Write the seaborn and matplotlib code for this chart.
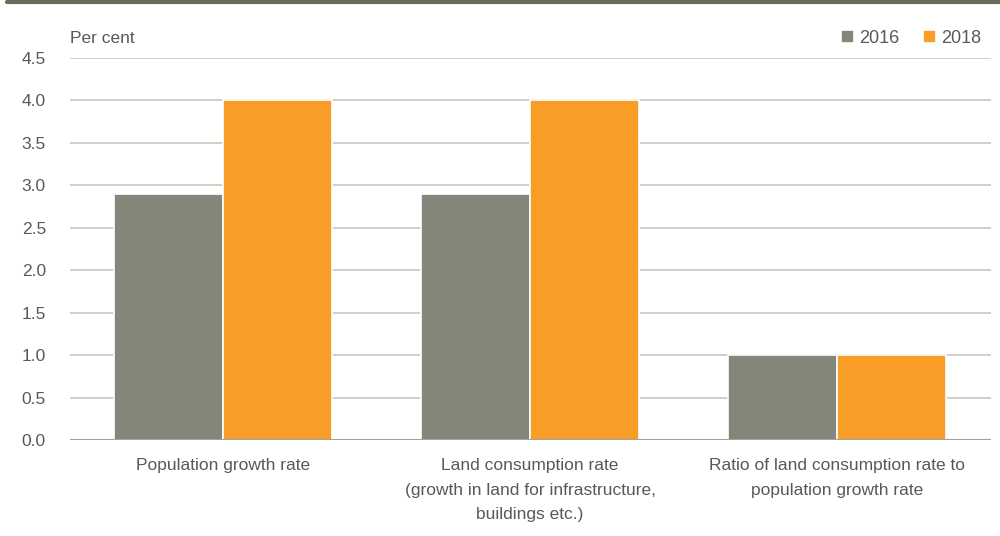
import pandas as pd
import numpy as np
import matplotlib.pyplot as plt
from matplotlib.lines import Line2D
import seaborn as sns

sns.set_theme(style="white")
plt.rcParams['font.family'] = ['Liberation Sans', 'DejaVu Sans']

# ── DATA ────────────────────────────────────────────
categories = [
    'Population growth rate',
    'Land consumption rate\n(growth in land for infrastructure,\nbuildings etc.)',
    'Ratio of land consumption rate to\npopulation growth rate',
]
values_2016 = [2.9, 2.9, 1.0]
values_2018 = [4.0, 4.0, 1.0]
years = ['2016', '2018']
y_ticks = [0.0, 0.5, 1.0, 1.5, 2.0, 2.5, 3.0, 3.5, 4.0, 4.5]

df = pd.DataFrame({
    'category': categories * 2,
    'value': values_2016 + values_2018,
    'year': [years[0]] * 3 + [years[1]] * 3,
})

text_col = '#595959'
palette = {'2016': '#85867a', '2018': '#f89d28'}

fig = plt.figure(figsize=(10, 5.36), dpi=100)
ax = fig.add_axes([0.0695, 0.179, 0.921, 0.713])

sns.barplot(data=df, x='category', y='value', hue='year', palette=palette,
            saturation=1, width=0.71, edgecolor='white', linewidth=1.2,
            ax=ax, zorder=3)

ax.set_ylim(0, 4.5)
ax.set_xlim(-0.5, 2.5)
ax.set_yticks(y_ticks)
ax.set_yticklabels([f'{t:.1f}' for t in y_ticks])
ax.yaxis.grid(True, color='#c8c8c0', linewidth=1.2, zorder=0)
ax.axhline(0, color='#a3a399', linewidth=1.5, zorder=4)
for s in ax.spines.values():
    s.set_visible(False)
ax.tick_params(axis='y', length=0, pad=17, labelsize=12.5, labelcolor=text_col)
ax.tick_params(axis='x', length=0, pad=13, labelsize=12.5, labelcolor=text_col)
for lab in ax.get_xticklabels():
    lab.set_linespacing(1.8)
ax.set_xlabel('')
ax.set_ylabel('')

fig.text(0.0695, 0.929, 'Per cent', fontsize=12.5, color=text_col,
         ha='left', va='center')

leg = ax.legend(loc='upper right', bbox_to_anchor=(0.998, 1.092), ncol=2,
                frameon=False, fontsize=13, handlelength=0.7, handleheight=0.7,
                handletextpad=0.3, columnspacing=1.3, borderaxespad=0)
for t in leg.get_texts():
    t.set_color(text_col)

# top border rule
fig.add_artist(Line2D([0.007, 1.0], [0.997, 0.997], color='#6b6b5b',
                      linewidth=3, transform=fig.transFigure))

plt.savefig('out.png', dpi=100)
plt.close()
